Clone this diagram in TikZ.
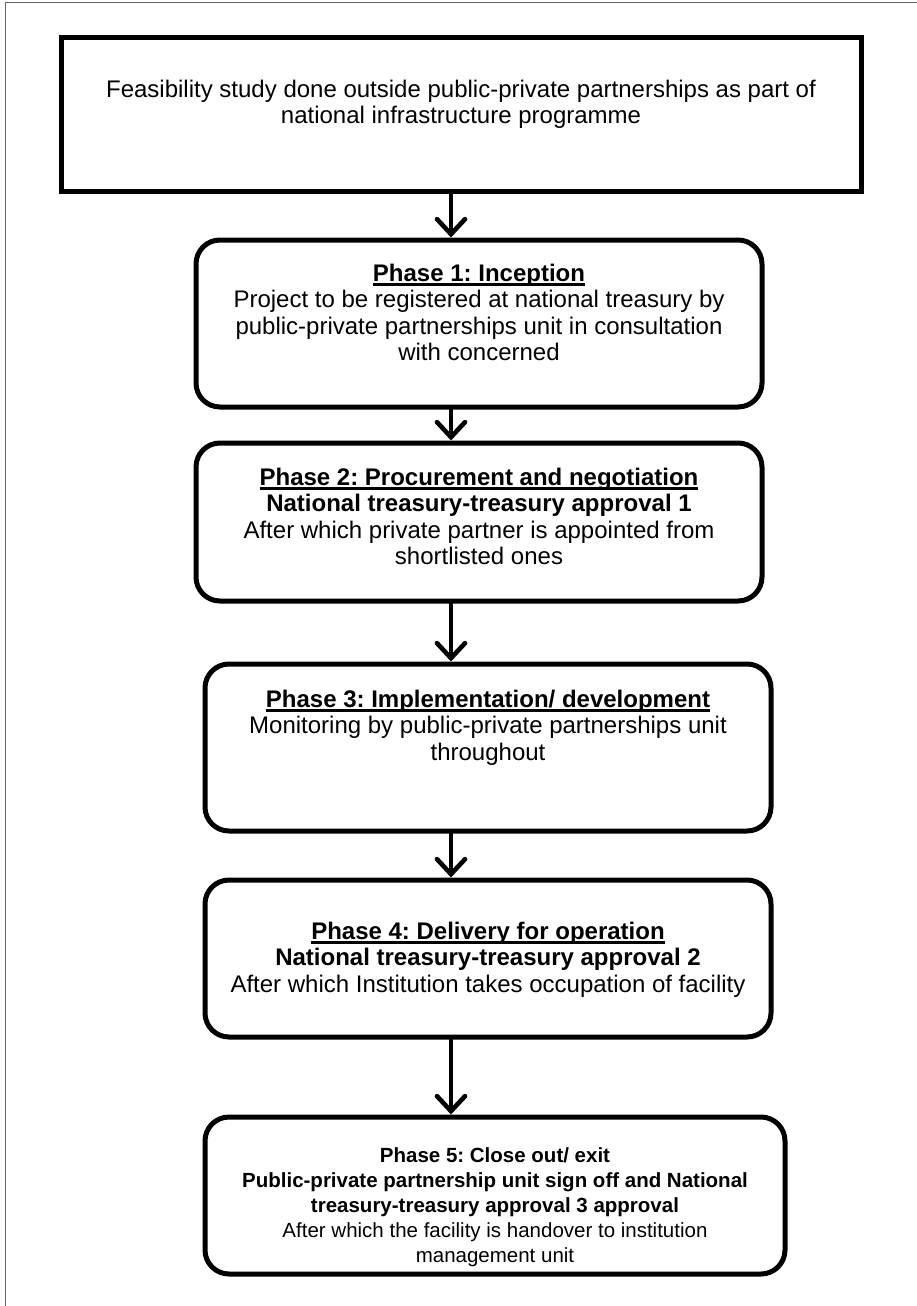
\documentclass[tikz,border=0pt]{standalone}
\usepackage{fontspec}
\setmainfont{Liberation Sans}
\usetikzlibrary{positioning,arrows.meta}
\frenchspacing
\def\phasehead#1{\setbox0=\hbox{\textbf{#1}}\rlap{\rule[-4.5pt]{\wd0}{2.4pt}}\box0}
\tikzset{
  startbox/.style={draw, line width=5pt, inner sep=0pt, minimum width=800pt, minimum height=153pt},
  phasebox/.style={draw, line width=5pt, rounded corners=24pt, inner sep=0pt},
  boxtext/.style={align=center, inner sep=0pt, font=\fontsize{24}{26.5}\selectfont},
  smalltext/.style={align=center, inner sep=0pt, font=\fontsize{20.5}{25}\selectfont},
  flowarrow/.style={line width=4.6pt, line cap=round, -{Straight Barb[length=15pt,width=28pt,line cap=round]}}
}

\begin{document}
\begin{tikzpicture}[x=1pt, y=-1pt]

\useasboundingbox (0,0) rectangle (917,1306);

% page frame, runs off to the right and bottom
\draw[line width=1pt, black!60] (5,1330) |- (940,3);

\node[startbox] (feas) at (461,114.5) {};

\node[boxtext, below=44pt of feas.north] (feastext) {Feasibility study done outside public-private partnerships as part of\\ national infrastructure programme};

\node[phasebox, minimum width=566pt, minimum height=167pt] (ph1) at (479,323.5) {};

\node[boxtext, below=26pt of ph1.north] (ph1text) {\phasehead{Phase 1: Inception}\\ Project to be registered at national treasury by\\ public-private partnerships unit in consultation\\ with concerned};

\node[phasebox, minimum width=566pt, minimum height=158pt] (ph2) at (479,522) {};

\node[boxtext, below=27pt of ph2.north] (ph2text) {\phasehead{Phase 2: Procurement and negotiation}\\ \textbf{National treasury-treasury approval 1}\\ After which private partner is appointed from\\ shortlisted ones};

\node[phasebox, minimum width=566pt, minimum height=167pt] (ph3) at (488,747.5) {};

\node[boxtext, below=28pt of ph3.north] (ph3text) {\phasehead{Phase 3: Implementation/ development}\\ Monitoring by public-private partnerships unit\\ throughout};

\node[phasebox, minimum width=566pt, minimum height=157pt] (ph4) at (488,958.5) {};

\node[boxtext, below=44pt of ph4.north] (ph4text) {\phasehead{Phase 4: Delivery for operation}\\ \textbf{National treasury-treasury approval 2}\\ After which Institution takes occupation of facility};

\node[phasebox, minimum width=580pt, minimum height=157pt] (ph5) at (495,1195.5) {};

\node[smalltext, below=33pt of ph5.north] (ph5text) {\textbf{Phase 5: Close out/ exit}\\ \textbf{Public-private partnership unit sign off and National}\\ \textbf{treasury-treasury approval 3 approval}\\ After which the facility is handover to institution\\ management unit};

% arrows all sit on one line
\coordinate (spine) at (451,0);

\draw[flowarrow] (feas.south -| spine) -- (ph1.north -| spine);

\draw[flowarrow] (ph1.south -| spine) -- (ph2.north -| spine);

\draw[flowarrow] (ph2.south -| spine) -- (ph3.north -| spine);

\draw[flowarrow] (ph3.south -| spine) -- (ph4.north -| spine);

\draw[flowarrow] (ph4.south -| spine) -- (ph5.north -| spine);

\end{tikzpicture}
\end{document}
